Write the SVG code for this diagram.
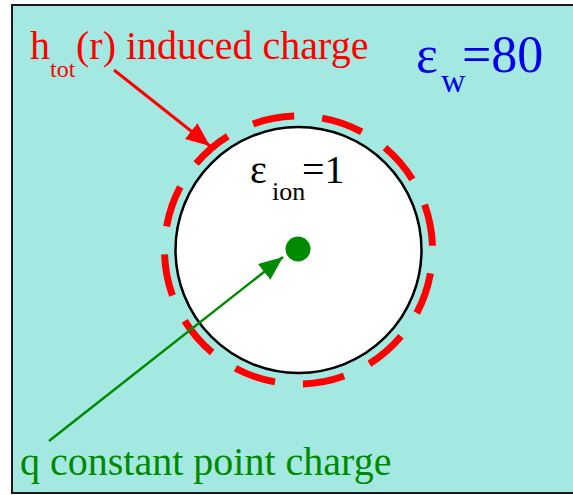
<svg xmlns="http://www.w3.org/2000/svg" width="573" height="495" viewBox="0 0 573 495">
<defs>
<marker id="ah-red" markerUnits="userSpaceOnUse" markerWidth="26" markerHeight="20" refX="24" refY="10" orient="auto" viewBox="0 0 26 20">
<path d="M0,0 L24,10 L0,20 Z" fill="#ff0000"/>
</marker>
<marker id="ah-grn" markerUnits="userSpaceOnUse" markerWidth="26" markerHeight="20" refX="24" refY="10" orient="auto" viewBox="0 0 26 20">
<path d="M0,0 L24,10 L0,20 Z" fill="#008a00"/>
</marker>
</defs>
<rect width="573" height="495" fill="#ffffff"/>
<g id="frame">
<rect x="12" y="5" width="570" height="488" fill="#a4e9e1" stroke="#1a1a1a" stroke-width="2"/>
</g>
<g id="ion">
<circle cx="298.5" cy="250" r="123" fill="#ffffff" stroke="#000" stroke-width="2.5"/>
<circle cx="298.5" cy="250" r="134" fill="none" stroke="#ff0000" stroke-width="7" stroke-dasharray="42 28.16" stroke-dashoffset="46.6"/>
</g>
<g id="charge">
<circle cx="298" cy="249" r="12.5" fill="#008a00"/>
</g>
<g id="connectors">
<line x1="114" y1="70" x2="210" y2="146" stroke="#ff0000" stroke-width="3" marker-end="url(#ah-red)"/>
<line x1="49" y1="441" x2="283" y2="257" stroke="#008a00" stroke-width="2.5" marker-end="url(#ah-grn)"/>
</g>
<text x="250" y="183" font-size="40" fill="#000" font-family="Times New Roman, Liberation Serif, serif">&#949;</text>
<text x="272" y="200" font-size="26" fill="#000" font-family="Times New Roman, Liberation Serif, serif">ion</text>
<text x="302" y="183" font-size="40" fill="#000" font-family="Times New Roman, Liberation Serif, serif">=1</text>
<text x="30" y="59" font-size="40" fill="#ff0000" font-family="Times New Roman, Liberation Serif, serif">h</text>
<text x="50" y="77" font-size="24" fill="#ff0000" font-family="Times New Roman, Liberation Serif, serif">tot</text>
<text x="76" y="59" font-size="40" fill="#ff0000" font-family="Times New Roman, Liberation Serif, serif">(r) induced charge</text>
<text x="416" y="72" font-size="52" fill="#0000e6" font-family="Times New Roman, Liberation Serif, serif">&#949;</text>
<text x="441" y="92" font-size="34" fill="#0000e6" font-family="Times New Roman, Liberation Serif, serif">w</text>
<text x="462" y="72" font-size="52" fill="#0000e6" font-family="Times New Roman, Liberation Serif, serif">=80</text>
<text x="20" y="475" font-size="40" fill="#008a00" font-family="Times New Roman, Liberation Serif, serif">q constant point charge</text>
</svg>
